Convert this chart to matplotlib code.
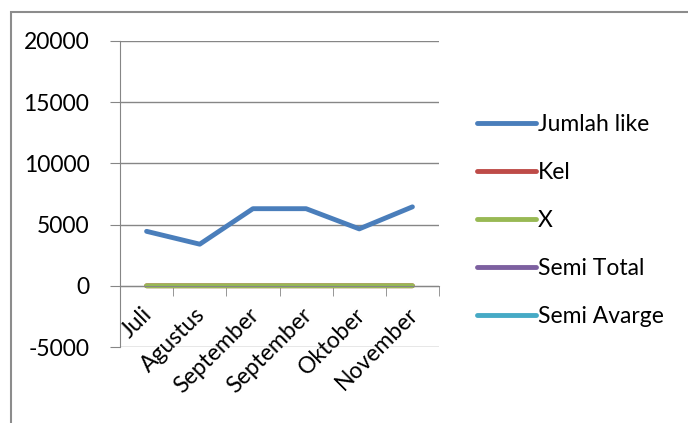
import matplotlib.pyplot as plt
import numpy as np
from matplotlib.patches import Rectangle
from matplotlib.transforms import ScaledTranslation

# Data
bulan = ["Juli", "Agustus", "September", "September", "Oktober", "November"]
jumlah_like = [4450, 3400, 6300, 6300, 4650, 6450]
kel = [1, 1, 1, 2, 2, 2]
x_kode = [-1, 0, 1, 2, 3, 4]
semi_total = [np.nan] * 6
semi_avarge = [np.nan] * 6

plt.rcParams['font.family'] = ['Lato', 'DejaVu Sans']
plt.rcParams['font.size'] = 16.5
plt.rcParams['axes.unicode_minus'] = False

fig = plt.figure(figsize=(6.88, 4.23), dpi=100)

# Chart area border
fig.patches.append(Rectangle((11 / 688, -0.1), 1.0, 1.1 - 12 / 423,
                             transform=fig.transFigure, fill=False,
                             edgecolor='#8c8c8c', linewidth=1.5))

ax = fig.add_axes([120 / 688, 1 - 347 / 423, 319 / 688, 306 / 423])

idx = np.arange(len(bulan))
ax.plot(idx, jumlah_like, color='#4a7ebb', lw=3.5, solid_capstyle='round',
        label='Jumlah like')
ax.plot(idx, kel, color='#be4b48', lw=3.5, solid_capstyle='round', label='Kel')
ax.plot(idx, x_kode, color='#98b954', lw=3.5, solid_capstyle='round', label='X')
ax.plot(idx, semi_total, color='#7d60a0', lw=3.5, solid_capstyle='round',
        label='Semi Total')
ax.plot(idx, semi_avarge, color='#46aac5', lw=3.5, solid_capstyle='round',
        label='Semi Avarge')

ax.set_xlim(-0.5, 5.5)
ax.set_ylim(-5000, 20000)
ax.set_yticks(np.arange(-5000, 20001, 5000))
ax.yaxis.grid(True, color='#868686', lw=1)
ax.set_axisbelow(True)

for s in ['top', 'right']:
    ax.spines[s].set_visible(False)
ax.spines['left'].set_color('#868686')
ax.spines['bottom'].set_color('#868686')
ax.spines['bottom'].set_position(('data', 0))

ax.set_xticks(idx)
ax.set_xticklabels(bulan, rotation=45, ha='right', va='top',
                   rotation_mode='anchor')
ax.set_xticks(np.arange(-0.5, 6, 1), minor=True)
ax.tick_params(axis='x', which='major', length=0, pad=13)
ax.tick_params(axis='x', which='minor', length=7, color='#868686')
ax.tick_params(axis='y', length=7, color='#868686', pad=15)

# geser label bulan sedikit ke kiri
for lbl in ax.get_xticklabels():
    lbl.set_transform(lbl.get_transform() + ScaledTranslation(-0.05, 0, fig.dpi_scale_trans))

ax.legend(loc='upper left', bbox_to_anchor=(1.09, 0.79), frameon=False,
          handlelength=2.6, handletextpad=0.05, labelspacing=1.17,
          borderaxespad=0)

fig.savefig('out.png', dpi=100)
